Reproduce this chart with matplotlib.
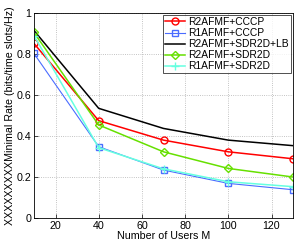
import numpy as np
import matplotlib
matplotlib.use("Agg")
import matplotlib.pyplot as plt

users = [10, 40, 70, 100, 130]
r2_cccp = [0.852, 0.475, 0.380, 0.323, 0.289]
r1_cccp = [0.803, 0.348, 0.234, 0.169, 0.138]
r2_sdr_lb = [0.915, 0.535, 0.437, 0.380, 0.353]
r2_sdr = [0.905, 0.454, 0.323, 0.242, 0.200]
r1_sdr = [0.890, 0.343, 0.240, 0.177, 0.153]

labels = ["R2AFMF+CCCP", "R1AFMF+CCCP", "R2AFMF+SDR2D+LB", "R2AFMF+SDR2D", "R1AFMF+SDR2D"]

plt.rcParams['font.family'] = ['Liberation Sans', 'DejaVu Sans']
plt.rcParams['font.size'] = 7.7

fig = plt.figure(figsize=(3, 2.45), dpi=100)
ax = fig.add_axes([0.113, 0.11, 0.864, 0.837])

ax.plot(users, r2_cccp, color='red', marker='o', ms=5, mfc='none', lw=1.1, label=labels[0])
ax.plot(users, r1_cccp, color='#4a6cff', marker='s', ms=4.2, mfc='none', lw=0.8, label=labels[1])
ax.plot(users, r2_sdr_lb, color='black', lw=1.1, label=labels[2])
ax.plot(users, r2_sdr, color='#66e000', marker='D', ms=4.5, mfc='none', lw=1.1, label=labels[3])
ax.plot(users, r1_sdr, color='#66ffe0', marker='+', ms=6, lw=1.1, label=labels[4])

ax.set_xlim(10, 130)
ax.set_ylim(0, 1)
ax.set_xticks([20, 40, 60, 80, 100, 120])
ax.set_yticks([0, 0.2, 0.4, 0.6, 0.8, 1])
ax.set_yticklabels(['0', '0.2', '0.4', '0.6', '0.8', '1'])
ax.grid(True, linestyle=':', color='#b0b0b0', lw=0.6)
ax.tick_params(direction='in', length=3, width=0.5, pad=2)
for s in ax.spines.values():
    s.set_linewidth(0.6)

ax.set_xlabel("Number of Users M", labelpad=0)
ax.set_ylabel("XXXXXXXXXMinimal Rate (bits/time slots/Hz)", labelpad=1)

leg = ax.legend(loc='upper right', fontsize=7.4, frameon=True, fancybox=False,
                edgecolor='black', borderpad=0.2, labelspacing=0.1,
                handlelength=2.0, handletextpad=0.3, borderaxespad=0.2)
leg.get_frame().set_linewidth(0.6)

fig.savefig("out.png", dpi=100)
